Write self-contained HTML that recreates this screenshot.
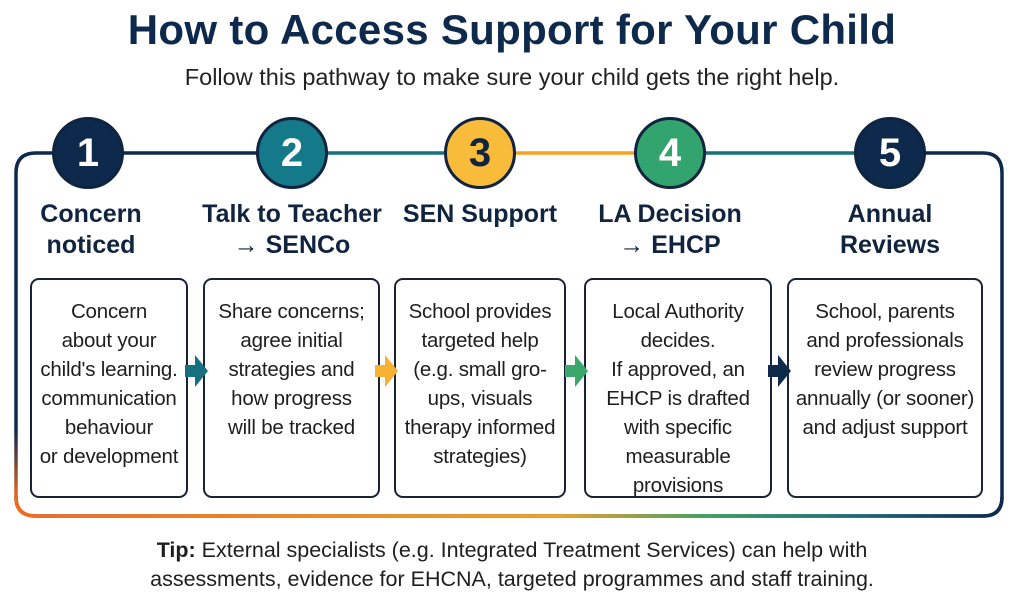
<!DOCTYPE html>
<html><head><meta charset="utf-8"><style>
*{margin:0;padding:0;box-sizing:border-box}
body{width:1024px;height:608px;background:#fff;font-family:"Liberation Sans",sans-serif;color:#14213d;position:relative;overflow:hidden}
.abs{position:absolute}
h1{position:absolute;left:0;width:1024px;top:6px;text-align:center;font-size:42px;font-weight:bold;color:#0d2a4d;letter-spacing:0.3px}
.sub{position:absolute;left:0;width:1024px;top:64px;text-align:center;font-size:23.5px;color:#222}
.circ{position:absolute;width:72px;height:72px;border-radius:50%;border:3px solid #10233f;color:#fff;font-size:40px;font-weight:bold;text-align:center;line-height:66px}
.t{position:absolute;text-align:center;font-size:25px;font-weight:bold;line-height:31px;color:#10233f;white-space:nowrap}
.box{position:absolute;top:278px;height:220px;border:2.5px solid #1a2438;border-radius:9px;background:#fff;text-align:center;font-size:20.5px;line-height:29px;padding-top:17px;color:#1e1e1e;white-space:nowrap;letter-spacing:-0.2px}
.tip{position:absolute;left:0;width:1024px;text-align:center;font-size:21.5px;color:#1e1e1e;line-height:29px;top:536px}
</style></head><body>
<h1>How to Access Support for Your Child</h1>
<div class="sub">Follow this pathway to make sure your child gets the right help.</div>
<svg class="abs" style="left:0;top:0" width="1024" height="608">
<defs>
<linearGradient id="bot" x1="0" x2="1"><stop offset="0" stop-color="#f26a1b"/><stop offset="0.55" stop-color="#f6a21e"/><stop offset="0.7" stop-color="#3aa35a"/><stop offset="0.85" stop-color="#1a6c7a"/><stop offset="1" stop-color="#0d2a4d"/></linearGradient>
<linearGradient id="left" x1="0" y1="0" x2="0" y2="1"><stop offset="0.8" stop-color="#0d2a4d"/><stop offset="1" stop-color="#f26a1b"/></linearGradient>
</defs>
<path d="M16 500 L16 173 Q16 153 36 153 L90 153" fill="none" stroke="url(#left)" stroke-width="3.5"/>
<line x1="88" y1="153" x2="292" y2="153" stroke="#0d2a4d" stroke-width="3.5"/>
<line x1="292" y1="153" x2="480" y2="153" stroke="#17707f" stroke-width="3.5"/>
<line x1="480" y1="153" x2="670" y2="153" stroke="#f6a21e" stroke-width="3.5"/>
<line x1="670" y1="153" x2="890" y2="153" stroke="#17707f" stroke-width="3.5"/>
<path d="M890 153 L983 153 Q1002 153 1002 173 L1002 497 Q1002 516 983 516 L36 516 Q16 516 16 497" fill="none" stroke="#0d2a4d" stroke-width="3.5"/>
<path d="M1002 497 Q1002 516 983 516 L36 516 Q16 516 16 497" fill="none" stroke="url(#bot)" stroke-width="3.5"/>
</svg>
<div class="circ" style="left:52px;top:117px;background:#0d2a4d">1</div>
<div class="circ" style="left:256px;top:117px;background:#147a8a">2</div>
<div class="circ" style="left:444px;top:117px;background:#f8bb3a;color:#10233f">3</div>
<div class="circ" style="left:634px;top:117px;background:#32a46e">4</div>
<div class="circ" style="left:854px;top:117px;background:#0d2a4d">5</div>
<div class="t" style="left:0;width:182px;top:199px">Concern<br>noticed</div>
<div class="t" style="left:192px;width:200px;top:199px">Talk to Teacher<br>→ SENCo</div>
<div class="t" style="left:385px;width:190px;top:199px">SEN Support</div>
<div class="t" style="left:570px;width:200px;top:199px">LA Decision<br>→ EHCP</div>
<div class="t" style="left:790px;width:200px;top:199px">Annual<br>Reviews</div>
<div class="box" style="left:30px;width:158px">Concern<br>about your<br>child's learning.<br>communication<br>behaviour<br>or development</div>
<div class="box" style="left:203px;width:177px">Share concerns;<br>agree initial<br>strategies and<br>how progress<br>will be tracked</div>
<div class="box" style="left:394px;width:172px">School provides<br>targeted help<br>(e.g. small gro-<br>ups, visuals<br>therapy informed<br>strategies)</div>
<div class="box" style="left:584px;width:188px">Local Authority<br>decides.<br>If approved, an<br>EHCP is drafted<br>with specific<br>measurable<br>provisions</div>
<div class="box" style="left:787px;width:196px">School, parents<br>and professionals<br>review progress<br>annually (or sooner)<br>and adjust support</div>
<svg class="abs" style="left:0;top:0" width="1024" height="608">
<path d="M185 365h10v-10l13 16-13 16v-10h-10z" fill="#17707f"/>
<path d="M375 365h10v-10l13 16-13 16v-10h-10z" fill="#f6b132"/>
<path d="M565 365h10v-10l13 16-13 16v-10h-10z" fill="#3aa86a"/>
<path d="M768 365h10v-10l13 16-13 16v-10h-10z" fill="#0d2a4d"/>
</svg>
<div class="tip"><b>Tip:</b> External specialists (e.g. Integrated Treatment Services) can help with<br>assessments, evidence for EHCNA, targeted programmes and staff training.</div>
</body></html>
